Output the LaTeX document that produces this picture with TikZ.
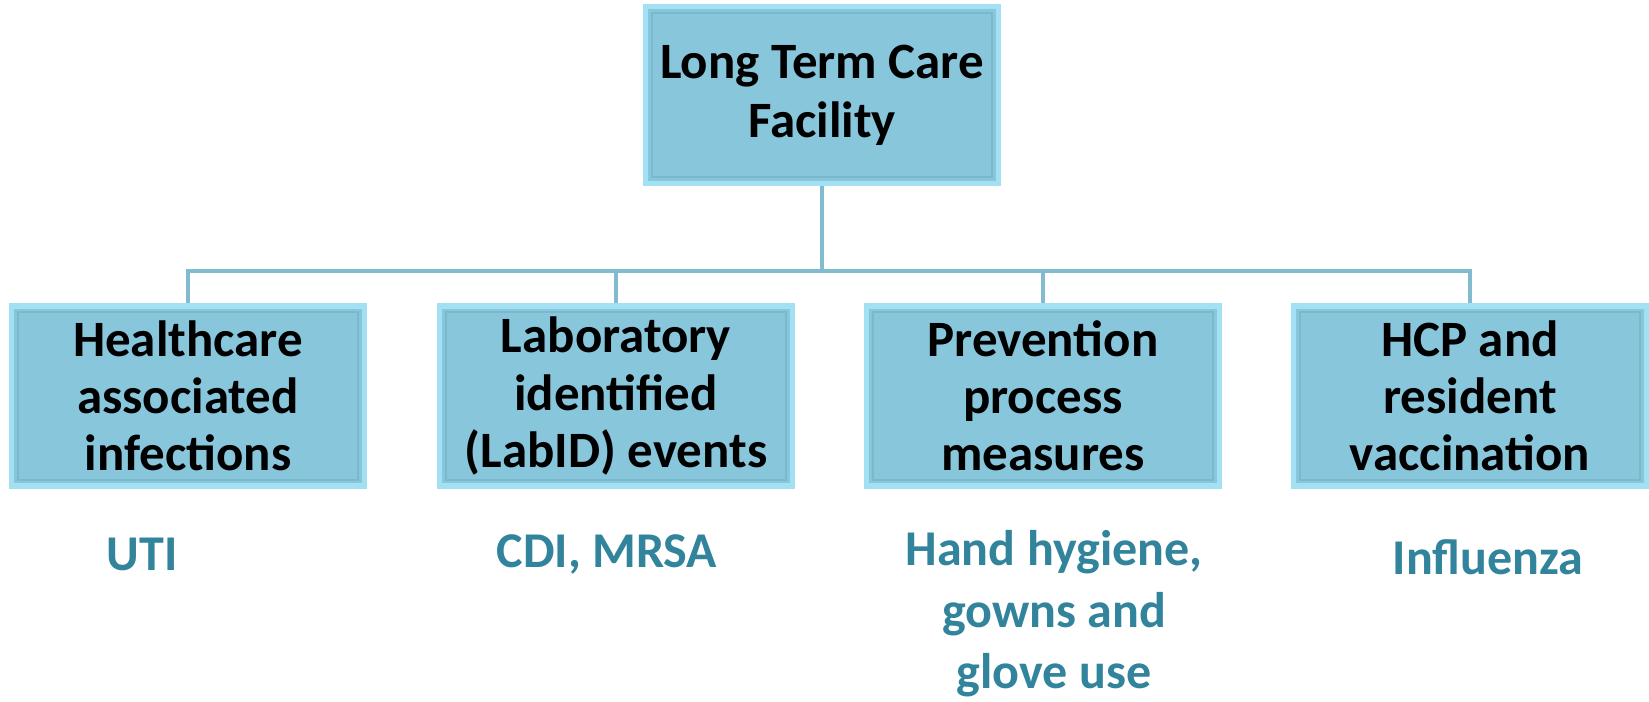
\documentclass[tikz,border=0pt]{standalone}
\usepackage{fontspec}
\setmainfont{Carlito}
\usepackage{tikz}
\usetikzlibrary{positioning}

\definecolor{boxfill}{HTML}{88C6DC}
\definecolor{boxedge}{HTML}{A4E0F4}
\definecolor{boxshade}{HTML}{72AFC4}
\definecolor{linkcol}{HTML}{80BBCF}
\definecolor{notecol}{HTML}{31849B}

\begin{document}
\begin{tikzpicture}[x=0.02cm,y=-0.02cm]
\tikzstyle{every node}+=[font=\bfseries]
\tikzstyle{facet}=[fill=boxfill,draw=boxedge,line width=3pt,minimum width=7.05cm,minimum height=3.55cm,align=center,inner sep=0pt]
\tikzstyle{bevel}=[draw=boxshade,line width=1.2pt,opacity=0.6]
\tikzstyle{link}=[draw=linkcol,line width=2.6pt]
\tikzstyle{note}=[text=notecol,align=center,inner sep=0pt,font=\bfseries\fontsize{28.5}{35}\selectfont]
\useasboundingbox (0,0) rectangle (1649,701);
% top of the tree
\node [facet,font=\bfseries\fontsize{29}{33.5}\selectfont] (ltcf) at (822,95) {Long Term Care\\Facility};
% second row
\node [facet,minimum height=3.6cm,font=\bfseries\fontsize{29}{32.5}\selectfont] (hai) at (188,396) {Healthcare\\associated\\infections};
\node [facet,minimum height=3.6cm,font=\bfseries\fontsize{29}{32.5}\selectfont] (labid) at (616,396) {Laboratory\\identified\\(LabID) events};
\node [facet,minimum height=3.6cm,font=\bfseries\fontsize{29}{32.5}\selectfont] (prev) at (1043,396) {Prevention\\process\\measures};
\node [facet,minimum height=3.6cm,font=\bfseries\fontsize{29}{32.5}\selectfont] (vacc) at (1470,396) {HCP and\\resident\\vaccination};
\foreach \n in {ltcf,hai,labid,prev,vacc}
  \draw [bevel] ([shift={(9,9)}]\n.north west) rectangle ([shift={(-9,-9)}]\n.south east);
% connectors
\coordinate (bus) at (822,271);
\draw [link] (ltcf.south) -- (bus);
\foreach \n in {hai,labid,prev,vacc}
  \draw [link] (\n.north) |- (bus);
% notes under the boxes
\node [note] (uti) at (142,554) {UTI};
\node [note] (cdi) at (607,554) {CDI, MRSA};
\node [note] (hand) at (1054,614) {Hand hygiene,\\gowns and\\glove use};
\node [note] (flu) at (1488,557) {Influenza};
\end{tikzpicture}
\end{document}
